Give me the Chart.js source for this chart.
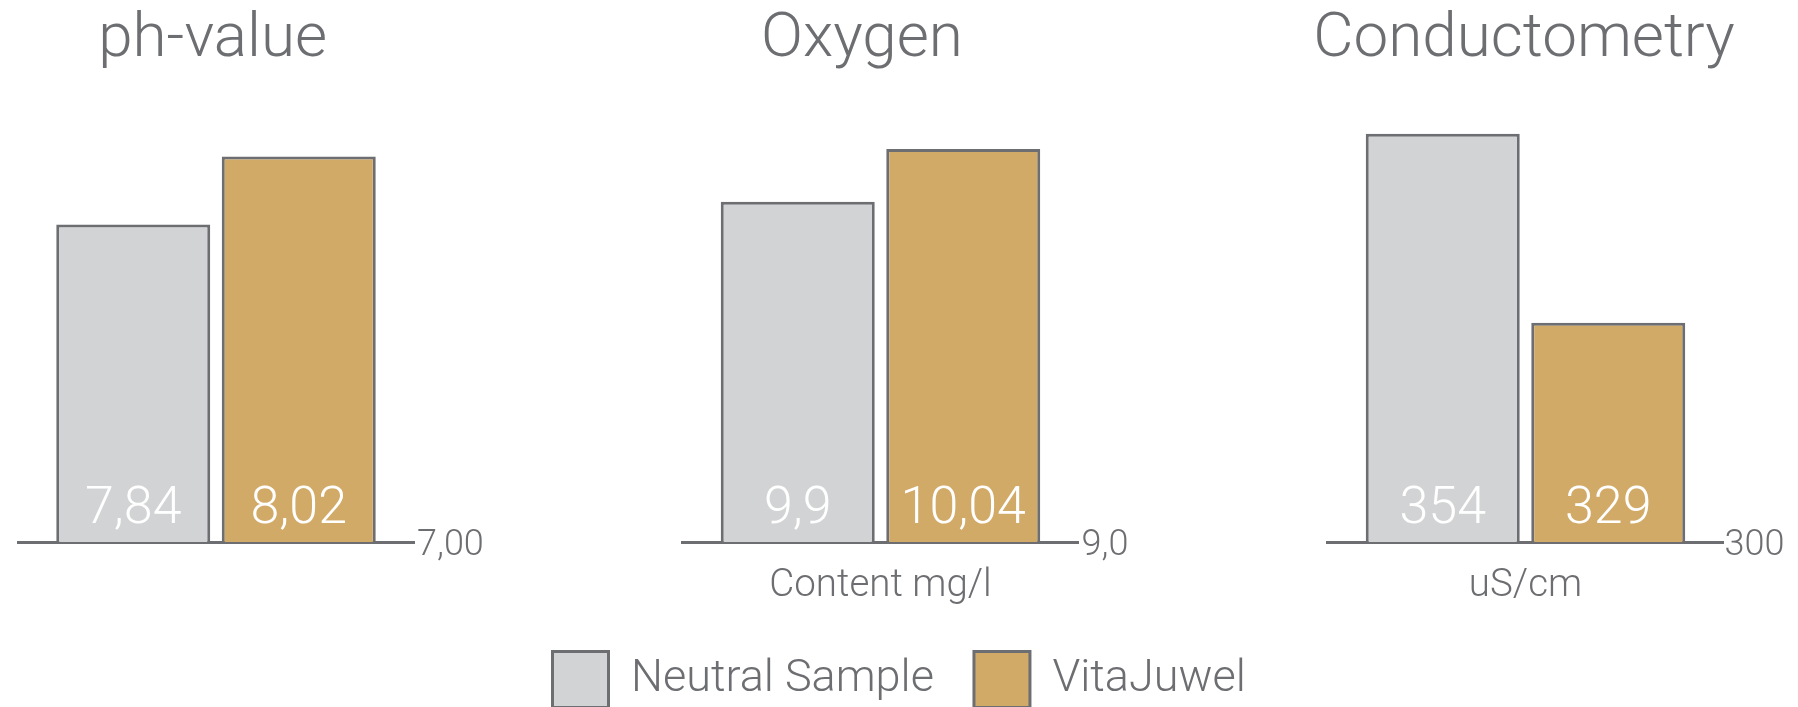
<!DOCTYPE html>
<html>
<head>
<meta charset="utf-8">
<script src="https://cdn.jsdelivr.net/npm/chart.js@4.4.1/dist/chart.umd.min.js"></script>
<style>
  html, body { margin: 0; padding: 0; width: 1798px; height: 707px; overflow: hidden; background: #ffffff; }
  canvas { position: absolute; top: 0; }
</style>
</head>
<body>
<canvas id="c0"></canvas>
<canvas id="c1"></canvas>
<canvas id="c2"></canvas>
<script>
// ---- data ----
const chartTitles = ['ph-value', 'Oxygen', 'Conductometry'];
const seriesNames = ['Neutral Sample', 'VitaJuwel'];
const neutralValues = [7.84, 9.9, 354];
const vitaValues = [8.02, 10.04, 329];
const axisMin = [7, 9, 300];
const axisMax = [8.2, 10.2, 360];
const baseTickLabels = ['7,00', '9,0', '300'];
const unitLabels = ['', 'Content mg/l', 'uS/cm'];

// ---- styles ----
const FONT = "Roboto, 'Liberation Sans', Arial, sans-serif";
const TEXT = '#6d6e71';
const EDGE = '#6d6e71';
const FILLS = ['#d1d3d4', '#d2aa67'];

// layout per chart (canvas placement and paddings)
const layouts = [
  { left: -100, width: 620,  padL: 21.2,  padR: 16,   padB: 108.5, yl: 96.8, yr: 90,  tickPad: 3, legend: false },
  { left: 540,  width: 640,  padL: 15.5,  padR: 11.5, padB: 108.5, yl: 127,  yr: 90,  tickPad: 3, legend: false },
  { left: 0,    width: 2600, padL: 512.5, padR: 64.5, padB: 2.5,   yl: 815,  yr: 812, tickPad: 1, legend: true }
];

const valueLabelPlugin = {
  id: 'valueLabels',
  afterDraw(chart) {
    const ctx = chart.ctx;
    const yScale = chart.scales.y;
    const basePx = yScale.getPixelForValue(yScale.min);
    chart.data.datasets.forEach((ds, di) => {
      const meta = chart.getDatasetMeta(di);
      meta.data.forEach((bar, j) => {
        const v = ds.data[j];
        const p = bar.getProps(['x'], true);
        ctx.save();
        ctx.font = '300 52px ' + FONT;
        ctx.fillStyle = '#ffffff';
        ctx.textAlign = 'center';
        ctx.textBaseline = 'alphabetic';
        ctx.fillText(String(v).replace('.', ','), p.x, basePx - 19.5);
        ctx.restore();
      });
    });
  }
};

function makeChart(i) {
  const L = layouts[i];
  const canvas = document.getElementById('c' + i);
  canvas.width = L.width;
  canvas.height = 720;
  canvas.style.left = L.left + 'px';
  canvas.style.width = L.width + 'px';
  canvas.style.height = '720px';

  return new Chart(canvas, {
    type: 'bar',
    data: {
      labels: [chartTitles[i]],
      datasets: [
        { label: seriesNames[0], data: [neutralValues[i]], backgroundColor: FILLS[0], borderColor: EDGE, borderWidth: 3, borderSkipped: false, yAxisID: 'y' },
        { label: seriesNames[1], data: [vitaValues[i]], backgroundColor: FILLS[1], borderColor: EDGE, borderWidth: 3, borderSkipped: false, yAxisID: 'y' }
      ]
    },
    options: {
      responsive: false,
      maintainAspectRatio: false,
      animation: false,
      devicePixelRatio: 1,
      categoryPercentage: 0.8359,
      barPercentage: 0.9305,
      layout: { padding: { left: L.padL, right: L.padR, top: 0, bottom: L.padB } },
      scales: {
        x: {
          type: 'category',
          grid: { display: false, drawTicks: false },
          border: { display: true, color: EDGE, width: 3 },
          ticks: { display: false },
          title: {
            display: unitLabels[i] !== '',
            text: unitLabels[i],
            color: TEXT,
            font: { family: FONT, size: 38.5, weight: '300' },
            padding: { top: 0, bottom: 2.5 }
          },
          afterFit(s) { s.height = 69.5; }
        },
        pad: {
          type: 'linear',
          position: 'left',
          display: true,
          grid: { display: false, drawTicks: false },
          border: { display: false },
          ticks: { display: false },
          afterFit(s) { s.width = L.yl; }
        },
        y: {
          type: 'linear',
          position: 'right',
          min: axisMin[i],
          max: axisMax[i],
          grid: { display: false, drawTicks: false },
          border: { display: false },
          ticks: {
            padding: L.tickPad,
            labelOffset: 4,
            color: TEXT,
            font: { family: FONT, size: 36, weight: '300' },
            callback: () => baseTickLabels[i]
          },
          afterBuildTicks(s) { s.ticks = [{ value: s.min }]; },
          afterFit(s) { s.width = L.yr; }
        }
      },
      plugins: {
        title: {
          display: true,
          text: chartTitles[i],
          color: TEXT,
          font: { family: FONT, size: 62, weight: '300' },
          padding: { top: 3, bottom: 11 }
        },
        legend: {
          display: L.legend,
          position: 'bottom',
          align: 'start',
          labels: {
            boxWidth: 56,
            boxHeight: 56,
            padding: 40,
            color: TEXT,
            font: { family: FONT, size: 45, weight: '300' }
          }
        },
        tooltip: { enabled: false }
      }
    },
    plugins: [valueLabelPlugin]
  });
}

[0, 1, 2].forEach(makeChart);
</script>
</body>
</html>
